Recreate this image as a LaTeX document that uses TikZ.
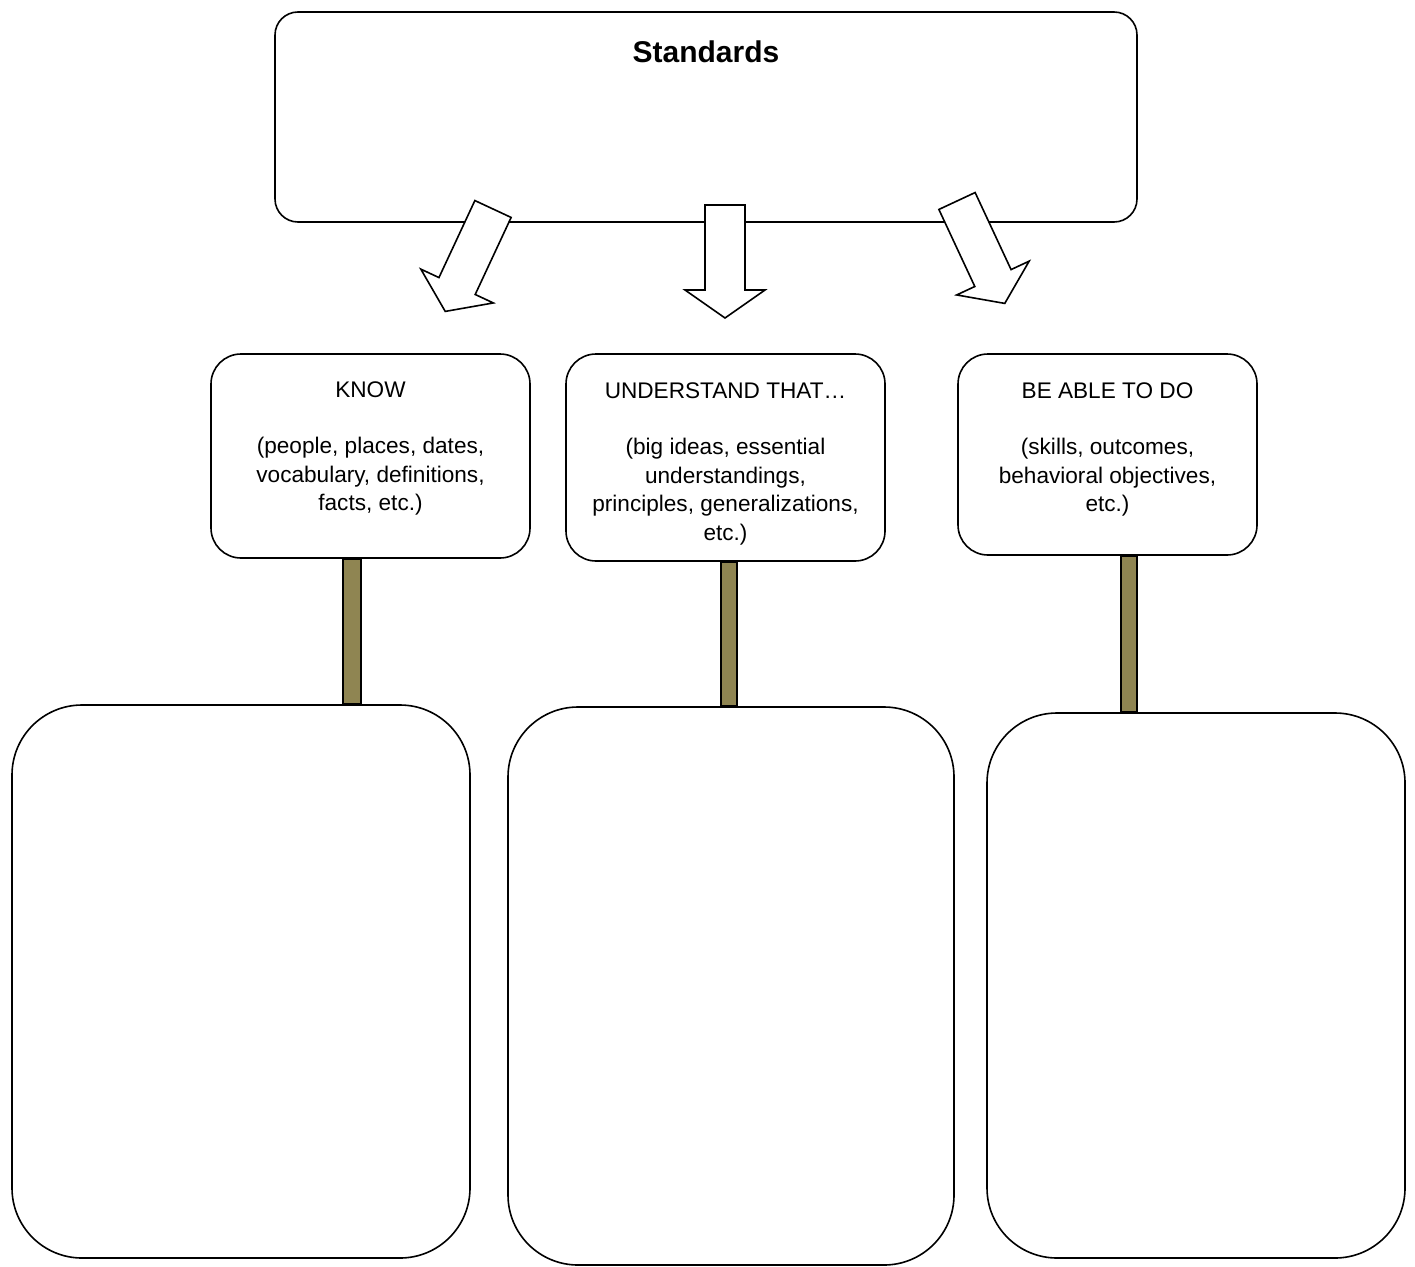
\documentclass[tikz,border=0pt]{standalone}
\usepackage{fontspec}
\setmainfont{Liberation Sans}
\usetikzlibrary{positioning,calc}
\definecolor{postolive}{RGB}{143,133,82}

\begin{document}
\begin{tikzpicture}[x=1pt,y=-1pt,
    board/.style={draw,line width=1.6pt,rounded corners=#1,inner sep=0pt,fill=white},
    signtext/.style={align=center,inner sep=0pt,font=\fontsize{22.6}{28.5}\selectfont},
    post/.style={draw,line width=1.6pt,fill=postolive},
    blockarrow/.pic={
        \draw[line width=1.6pt,fill=white] (-20,0) -- (-20,85) -- (-40,85) -- (0,113)
            -- (40,85) -- (20,85) -- (20,0) -- cycle;
    }]
    \useasboundingbox (0,0) rectangle (1415,1266);
    % top box and the three arrows
    \node[board=23pt,minimum width=862pt,minimum height=210pt] (standards) at (706,117) {};
    \node[below=29pt of standards.north,inner sep=0pt,font=\fontsize{30}{36}\selectfont\bfseries] (standardstitle) {Standards};
    \pic[rotate=-25] at (493,209) {blockarrow};
    \pic at (725,205) {blockarrow};
    \pic[rotate=25] at (957,201) {blockarrow};
    % signs
    \node[board=30pt,minimum width=319pt,minimum height=204pt] (know) at (370.5,456) {};
    \node[board=30pt,minimum width=319pt,minimum height=207pt] (understand) at (725.5,457.5) {};
    \node[board=30pt,minimum width=299pt,minimum height=201pt] (doable) at (1107.5,454.5) {};
    \node[signtext,below=28pt of know.north] (knowtext)
        {KNOW\\[28pt](people, places, dates,\\vocabulary, definitions,\\facts, etc.)};
    \node[signtext,below=29pt of understand.north] (understandtext)
        {UNDERSTAND THAT…\\[28pt](big ideas, essential\\understandings,\\principles, generalizations,\\etc.)};
    \node[signtext,below=29pt of doable.north] (doabletext)
        {BE ABLE TO DO\\[28pt](skills, outcomes,\\behavioral objectives,\\etc.)};
    % empty boxes below
    \node[board=70pt,minimum width=458pt,minimum height=553pt] (knownotes) at (241,981.5) {};
    \node[board=70pt,minimum width=446pt,minimum height=558pt] (understandnotes) at (731,986) {};
    \node[board=70pt,minimum width=418pt,minimum height=545pt] (doablenotes) at (1196,985.5) {};
    % posts
    \draw[post] ($(know.south)+(-27.5,0)$) rectangle ($(knownotes.north -| know.south)+(-9.5,0)$);
    \draw[post] ($(understand.south)+(-4.5,0)$) rectangle ($(understandnotes.north -| understand.south)+(11.5,0)$);
    \draw[post] ($(doable.south)+(13.5,0)$) rectangle ($(doablenotes.north -| doable.south)+(29.5,0)$);
\end{tikzpicture}
\end{document}
